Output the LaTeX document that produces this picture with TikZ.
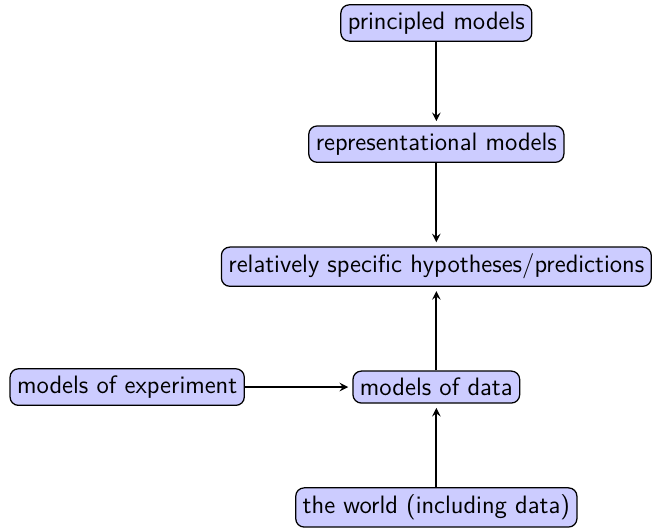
\documentclass[tikz,border=0pt]{standalone}
\usepackage{tikz}
\usetikzlibrary{arrows.meta, positioning, calc}

\begin{document}
\begin{tikzpicture}[
    model/.style = {draw, semithick, rounded corners, fill=blue!20, font=\sffamily\large},
    node distance = 1.4cm and 1.8cm
  ]
  \node (world) [model] {the world (including data)};
  \node (data) [model, above=of world] {models of data};
  \node (hyp) [model, above=of data] {relatively specific hypotheses/predictions};
  \node (repr) [model, above=of hyp] {representational models};
  \node (princ) [model, above=of repr] {principled models};
  \node (exp) [model, left=of data] {models of experiment};

  \path [-stealth, thick, shorten >=2pt]
    (princ) edge (repr)
    (repr) edge (hyp)
    (data) edge (hyp)
    (world) edge (data)
    (exp) edge (data);

  \coordinate (sw) at ($(exp.west |- world.south) + (-4.5pt,-1pt)$);
  \coordinate (ne) at ($(hyp.east |- princ.north) + (1pt,2pt)$);
  \pgfresetboundingbox
  \useasboundingbox (sw) rectangle (ne);
\end{tikzpicture}
\end{document}
